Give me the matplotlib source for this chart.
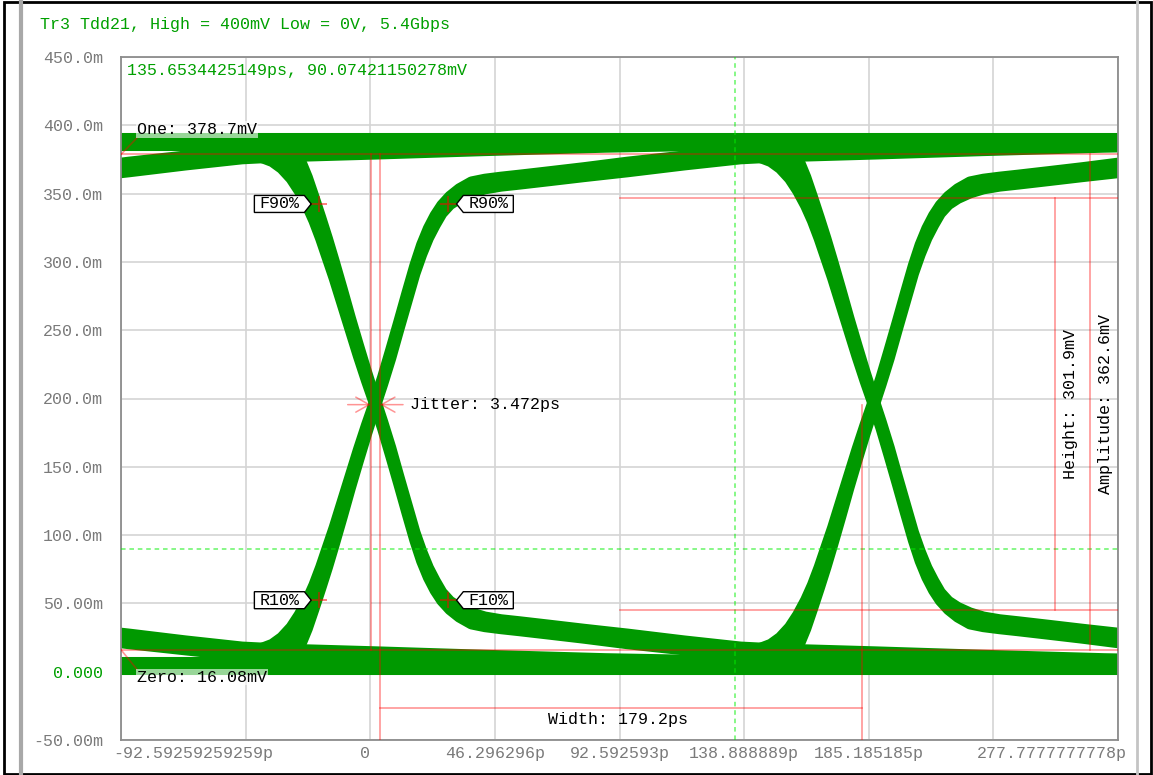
import numpy as np
import matplotlib
matplotlib.use("Agg")
import matplotlib.pyplot as plt
from matplotlib.path import Path
from matplotlib.lines import Line2D
from matplotlib.patches import Rectangle
from matplotlib.transforms import ScaledTranslation

plt.rcParams['font.family'] = ['Liberation Mono', 'DejaVu Sans Mono']
plt.rcParams['font.size'] = 12

# ---------------------------------------------------------------- texts
TITLE = "Tr3 Tdd21, High = 400mV Low = 0V, 5.4Gbps"
CURSOR_TEXT = "135.6534425149ps, 90.07421150278mV"

# ---------------------------------------------------------------- axes
X_MIN, X_MAX = -92.59259259259, 277.7777777778
Y_MIN, Y_MAX = -50.0, 450.0
x_ticks = [-92.59259259259, -46.296296296, 0.0, 46.296296, 92.592593,
           138.888889, 185.185185, 231.481481, 277.7777777778]
x_tick_labels = ["-92.59259259259p", "", "0", "46.296296p", "92.592593p",
                 "138.888889p", "185.185185p", "", "277.7777777778p"]
y_ticks = [-50, 0, 50, 100, 150, 200, 250, 300, 350, 400, 450]
y_tick_labels = ["-50.00m", "0.000", "50.00m", "100.0m", "150.0m", "200.0m",
                 "250.0m", "300.0m", "350.0m", "400.0m", "450.0m"]

# ---------------------------------------------------------------- eye data
UI_PS = 185.185185          # unit interval at 5.4 Gbps
T_CROSS = 2.6               # first crossing reference time (ps)
HIGH_MV = 388.0             # steady "1" level
LOW_MV = 4.5                # steady "0" level

# falling edges, time relative to crossing (ps) / voltage (mV)
# "late": leaves the steady-high level; "early": leaves the settling level
fall_late_t = [-60, -36, -33.5, -31, -28.5, -26, -23.5, -21, -18.5, -16,
               -13, -10, -7, -4, -1, 2, 5, 8, 11, 14,
               16.5, 19, 21.5, 24, 27, 30.5, 35, 40, 46, 53,
               64, 77, 93, 114, 135, 150, 185, 225, 270, 325, 380, 480]
fall_late_v = [388.5, 388.5, 387, 382.5, 374, 362, 347.5, 332.5, 317, 300.5,
               280, 259, 239, 219.5, 201, 183, 164, 143, 122.5, 102,
               88, 76, 66.5, 58, 51.5, 47, 43, 40, 38, 36.5,
               34, 31, 27.5, 22.5, 18, 16.5, 14.5, 12, 9.5, 7.5, 5.5, 5.5]
fall_early_t = [-60, -48, -43, -39, -35.5, -32, -29, -26, -23.5, -21,
                -18.5, -16, -13, -10, -7, -4, -1, 2, 5, 8,
                11, 14, 16.5, 19, 21.5, 24, 27, 30.5, 35, 40,
                46, 53, 64, 77, 93, 114, 135, 150, 185, 225, 270, 325, 480]
fall_early_v = [377, 377.5, 376.5, 373.5, 368.5, 361, 352, 341, 330, 317,
                302.5, 288, 269, 250, 231, 213, 196, 178, 158, 137.5,
                116.5, 96, 81, 69, 59.5, 52, 45.5, 40, 35, 33,
                31.5, 30, 27.5, 24.5, 20.5, 16, 11.5, 10.5, 9, 7.5, 6.5, 5.5, 5.5]

# rising edges
rise_late_t = [-60, -36, -33.5, -31, -28.5, -26, -23.5, -21, -18.5, -16,
               -13, -10, -7, -4, -1, 2, 5, 8, 11, 14,
               16.5, 19, 21.5, 24, 27, 30.5, 35, 40, 46, 53,
               64, 77, 93, 114, 135, 150, 185, 225, 270, 325, 380, 480]
rise_late_v = [5, 5, 6.5, 11, 19.5, 31.5, 46, 61, 76.5, 93,
               113.5, 134.5, 154.5, 174, 192.5, 210.5, 229.5, 250.5, 271, 291.5,
               305.5, 317.5, 327, 335.5, 342, 346.5, 350.5, 353.5, 355.5, 357,
               359.5, 362.5, 366, 371, 375.5, 377, 379, 381.5, 384, 386, 388, 388]
rise_early_t = [-60, -48, -43, -39, -35.5, -32, -29, -26, -23.5, -21,
                -18.5, -16, -13, -10, -7, -4, -1, 2, 5, 8,
                11, 14, 16.5, 19, 21.5, 24, 27, 30.5, 35, 40,
                46, 53, 64, 77, 93, 114, 135, 150, 185, 225, 270, 325, 480]
rise_early_v = [16.5, 16, 17, 20, 25, 32.5, 41.5, 52.5, 63.5, 76.5,
                91, 105.5, 124.5, 143.5, 162.5, 180.5, 197.5, 215.5, 235.5, 256,
                277, 297.5, 312.5, 324.5, 334, 341.5, 348, 353.5, 358.5, 360.5,
                362, 363.5, 366, 369, 373, 377.5, 382, 383, 384.5, 386, 387, 388, 388]

# ---------------------------------------------------------------- measurements
ONE_MV = 378.7
ZERO_MV = 16.08
JITTER_PS = 3.472
WIDTH_PS = 179.2
HEIGHT_MV = 301.9
AMPLITUDE_MV = 362.6
EYE_BOTTOM_MV = 45.0
CROSS_MV = 195.5
CURSOR_T = 135.6534425149
CURSOR_V = 90.07421150278

edge_names = ["F90%", "R90%", "R10%", "F10%"]
edge_times = [-18.9, 29.0, -18.9, 29.0]
edge_fracs = [0.9, 0.9, 0.1, 0.1]

# ---------------------------------------------------------------- style
EYE_GREEN = '#009900'
TEXT_GREEN = '#00a000'
MEAS_RED = '#ff0000'
MEAS_ALPHA = 0.42
GRAY_TEXT = '#7a7a7a'

W, H = 1153, 775
fig = plt.figure(figsize=(W / 100, H / 100), dpi=100)
fig.patch.set_facecolor('white')
ax = fig.add_axes([121 / W, 1 - 740 / H, 997 / W, 683 / H])
ax.set_xlim(X_MIN, X_MAX)
ax.set_ylim(Y_MIN, Y_MAX)

# grid and frame
ax.set_axisbelow(True)
ax.set_xticks(x_ticks, x_tick_labels)
ax.set_yticks(y_ticks, y_tick_labels)
ax.grid(True, color='#d4d4d4', lw=1.2)
for sp in ax.spines.values():
    sp.set_color('#8c8c8c')
    sp.set_linewidth(1.3)
ax.tick_params(axis='both', length=0, labelsize=12, labelcolor=GRAY_TEXT)
ax.tick_params(axis='x', pad=4)
ax.tick_params(axis='y', pad=13)
ax.get_yticklabels()[1].set_color(TEXT_GREEN)

xl = ax.get_xticklabels()
xl[0].set_ha('left')
xl[0].set_transform(xl[0].get_transform() + ScaledTranslation(-0.08, 0, fig.dpi_scale_trans))
xl[2].set_transform(xl[2].get_transform() + ScaledTranslation(-0.05, 0, fig.dpi_scale_trans))
xl[-1].set_ha('right')
xl[-1].set_transform(xl[-1].get_transform() + ScaledTranslation(0.09, 0, fig.dpi_scale_trans))

# ---------------------------------------------------------------- eye traces
ax.plot([X_MIN, X_MAX], [HIGH_MV, HIGH_MV], color=EYE_GREEN, lw=13,
        solid_capstyle='butt', zorder=2)
ax.plot([X_MIN, X_MAX], [LOW_MV, LOW_MV], color=EYE_GREEN, lw=13,
        solid_capstyle='butt', zorder=2)

bundles = [((rise_early_t, rise_early_v), (rise_late_t, rise_late_v)),
           ((fall_early_t, fall_early_v), (fall_late_t, fall_late_v))]
for k in (-1, 0, 1):
    shift = T_CROSS + k * UI_PS
    for (te, ve), (tl, vl) in bundles:
        te = np.asarray(te) + shift
        tl = np.asarray(tl) + shift
        # the area swept between the two edge families
        ax.fill(np.concatenate([te, tl[::-1]]),
                np.concatenate([ve, vl[::-1]]),
                color=EYE_GREEN, lw=0, zorder=2)
        for tt, vv in ((te, ve), (tl, vl)):
            ax.plot(tt, vv, color=EYE_GREEN, lw=8,
                    solid_joinstyle='round', solid_capstyle='round', zorder=2)

# ---------------------------------------------------------------- measurement overlay
red = dict(color=MEAS_RED, alpha=MEAS_ALPHA, lw=1.2, zorder=4)
ax.plot([X_MIN, X_MAX], [ONE_MV, ONE_MV], **red)
ax.plot([X_MIN, X_MAX], [ZERO_MV, ZERO_MV], **red)

t_left = 1.9 - JITTER_PS / 2
t_right = 1.9 + JITTER_PS / 2
ax.plot([t_left, t_left], [ZERO_MV, ONE_MV], **red)
ax.plot([t_right, t_right], [ONE_MV, Y_MIN], **red)

width_line_v = -26.4
ax.plot([t_right, t_right + WIDTH_PS], [width_line_v, width_line_v], **red)
ax.plot([t_right + WIDTH_PS] * 2, [CROSS_MV, Y_MIN], **red)
ax.text(92.1, -35.1, "Width: 179.2ps", ha='center', va='center',
        color='black', zorder=6)

eye_top = EYE_BOTTOM_MV + HEIGHT_MV
meas_start = 92.6
ax.plot([meas_start, X_MAX], [eye_top, eye_top], **red)
ax.plot([meas_start, X_MAX], [EYE_BOTTOM_MV, EYE_BOTTOM_MV], **red)
height_t = 254.5
ax.plot([height_t, height_t], [EYE_BOTTOM_MV, eye_top], **red)
amp_t = 267.5
ax.plot([amp_t, amp_t], [ZERO_MV, ZERO_MV + AMPLITUDE_MV], **red)
ax.text(260.1, 196.2, "Height: 301.9mV", rotation=90, ha='center', va='center',
        color='black', zorder=6)
ax.text(273.1, 196.0, "Amplitude: 362.6mV", rotation=90, ha='center', va='center',
        color='black', zorder=6)

# jitter
for side, t_edge in ((-1, t_left), (1, t_right)):
    ax.annotate('', xy=(t_edge, CROSS_MV), xytext=(side * 23, 0),
                textcoords='offset pixels',
                arrowprops=dict(arrowstyle='->,head_length=0.8,head_width=0.45',
                                color=MEAS_RED, alpha=MEAS_ALPHA, lw=1.1,
                                shrinkA=0, shrinkB=0), zorder=5)
ax.text(14.9, CROSS_MV, "Jitter: 3.472ps", ha='left', va='center', color='black',
        zorder=6)

# one / zero labels
ax.plot([X_MIN, -86.8], [ONE_MV, 390.5], **red)
ax.plot([X_MIN, -86.8], [ZERO_MV, 2.0], **red)
ax.text(-86.6, 396.8, "One: 378.7mV", ha='left', va='center', color='black', zorder=6,
        bbox=dict(boxstyle='square,pad=0.05', fc='white', ec='none', alpha=0.6))
ax.text(-86.6, -3.9, "Zero: 16.08mV", ha='left', va='center', color='black', zorder=6,
        bbox=dict(boxstyle='square,pad=0.05', fc='white', ec='none', alpha=0.6))


# edge-level tags
def _tag(direction):
    def style(x0, y0, width, height, mutation_size):
        px = 0.3 * mutation_size
        py = 0.06 * mutation_size
        xa, xb = x0 - px, x0 + width + px
        ya, yb = y0 - py, y0 + height + py
        tip = 0.4 * (yb - ya)
        ym = 0.5 * (ya + yb)
        if direction > 0:
            verts = [(xa, ya), (xb, ya), (xb + tip, ym), (xb, yb), (xa, yb), (xa, ya)]
        else:
            verts = [(xa, ya), (xb, ya), (xb, yb), (xa, yb), (xa - tip, ym), (xa, ya)]
        codes = [Path.MOVETO] + [Path.LINETO] * 4 + [Path.CLOSEPOLY]
        return Path(verts, codes)
    return style


for name, t_m, frac in zip(edge_names, edge_times, edge_fracs):
    v_m = ZERO_MV + frac * AMPLITUDE_MV
    ax.plot([t_m], [v_m], marker='+', ms=12, mew=1.2, color=MEAS_RED,
            alpha=0.6, zorder=5)
    left_side = t_m < 0
    ax.annotate(name, xy=(t_m, v_m), xytext=(-20 if left_side else 20, 0),
                textcoords='offset pixels', ha='right' if left_side else 'left',
                va='center', color='black', zorder=6,
                bbox=dict(boxstyle=_tag(1 if left_side else -1), fc='white',
                          ec='black', lw=1))

# cursor
cur = dict(color='#00ee00', alpha=0.6, lw=1.1, dashes=(3, 2.5), zorder=3)
ax.axvline(CURSOR_T, **cur)
ax.axhline(CURSOR_V, **cur)
ax.text(6 / 997, 1 - 14 / 683, CURSOR_TEXT, transform=ax.transAxes, ha='left',
        va='center', color=TEXT_GREEN, zorder=6)

# ---------------------------------------------------------------- page decorations
fig.text(40 / W, 1 - 24 / H, TITLE, ha='left', va='center', color=TEXT_GREEN)
fig.add_artist(Line2D([20.5 / W] * 2, [0, 1], color='#a8a8a8', lw=3))
fig.add_artist(Line2D([1137 / W] * 2, [0, 1], color='#c4c4c4', lw=2))
fig.add_artist(Rectangle((3.5 / W, 1.5 / H), (1151 - 3.5) / W, (773.5 - 1.5) / H,
                         transform=fig.transFigure, fill=False, ec='black', lw=2))

fig.savefig("out.png", dpi=100, facecolor='white')
